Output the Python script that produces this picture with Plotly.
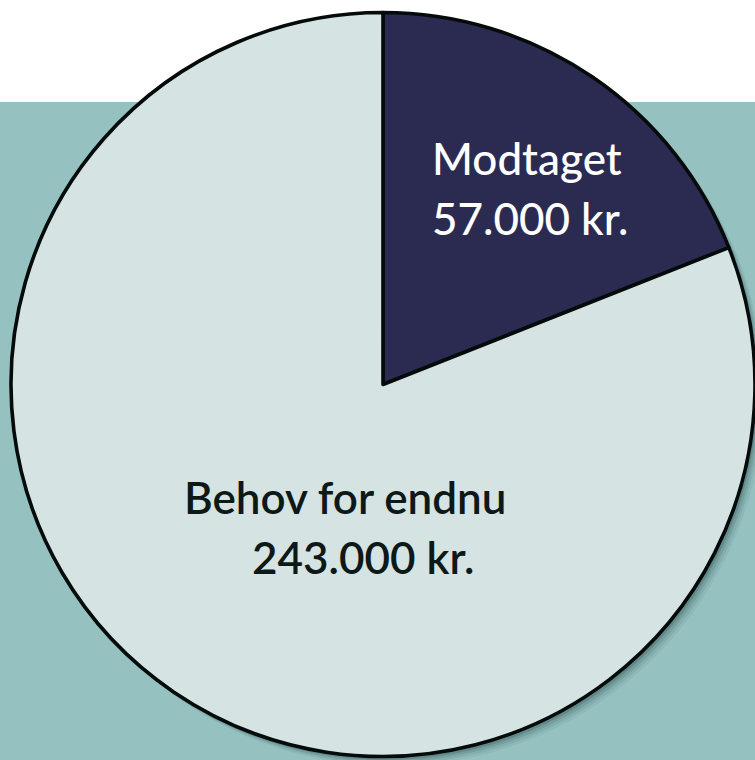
import plotly.graph_objects as go

# Data
labels = ["Modtaget", "Behov for endnu"]
values = [57000, 243000]
unit = "kr."

colors = ["#2B2B52", "#D6E3E3"]
teal = "#95C2C1"

W, H = 755, 760


def fmt(v):
    return f"{v:,}".replace(",", ".") + " " + unit


fig = go.Figure()

fig.add_trace(go.Pie(
    labels=labels,
    values=values,
    sort=False,
    direction="clockwise",
    rotation=0,
    textinfo="none",
    hoverinfo="label+value",
    marker=dict(colors=colors, line=dict(color="#050A0A", width=3.6)),
    domain=dict(x=[11 / W, 1.0], y=[3 / H, (H - 12) / H]),
    showlegend=False,
))

shapes = [
    dict(type="rect", xref="paper", yref="paper", x0=0, x1=1, y0=0, y1=(H - 102) / H,
         fillcolor=teal, line=dict(width=0), layer="below"),
]
cx, cy, r = 383, 385, 372
for off, op in [(9, 0.06), (7, 0.08), (5, 0.12), (3, 0.18)]:
    shapes.append(dict(
        type="circle", xref="paper", yref="paper",
        x0=(cx - r + off) / W, x1=(cx + r + off) / W,
        y0=(H - (cy + r + off)) / H, y1=(H - (cy - r + off)) / H,
        fillcolor=f"rgba(20,50,50,{op})", line=dict(width=0), layer="below",
    ))

font_family = "Lato, Open Sans, DejaVu Sans, sans-serif"


def ann(text, x, y, color, weight):
    return dict(text=text, x=x / W, y=(H - y) / H,
                xref="paper", yref="paper", xanchor="left", yanchor="middle",
                align="left", showarrow=False,
                font=dict(family=font_family, size=44, color=color, weight=weight))


annotations = [
    ann(labels[0], 430, 158.5, "white", 500),
    ann(fmt(values[0]), 430, 218.5, "white", 500),
    ann(labels[1], 182, 496.5, "#0D1818", 600),
    ann(fmt(values[1]), 250, 557, "#0D1818", 600),
]

fig.update_layout(
    width=W, height=H,
    margin=dict(l=0, r=0, t=0, b=0),
    paper_bgcolor="white",
    plot_bgcolor="white",
    shapes=shapes,
    annotations=annotations,
)

fig.write_html("out.html", config={"displayModeBar": False},
               post_script="document.body.style.margin='0';document.body.style.overflow='hidden';")
